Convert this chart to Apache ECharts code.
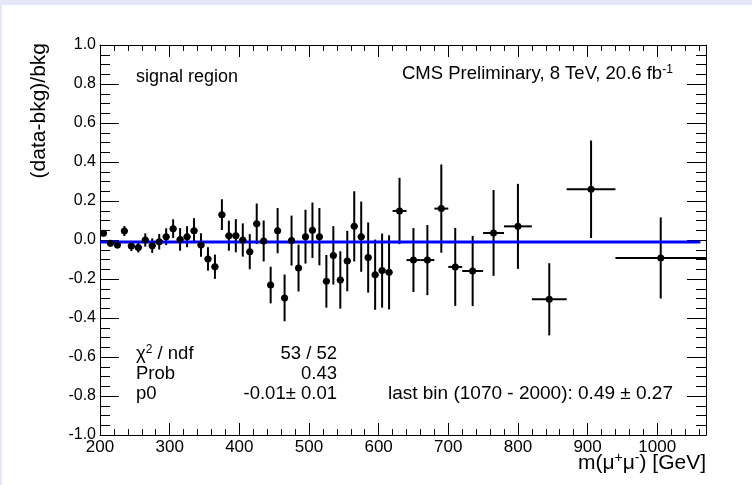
<!DOCTYPE html>
<html>
<head>
<meta charset="utf-8">
<script src="https://cdn.jsdelivr.net/npm/echarts@6/dist/echarts.min.js"></script>
<style>
html,body{margin:0;padding:0;background:#ffffff;}
#chart{width:752px;height:485px;}
</style>
</head>
<body>
<div id="chart"></div>
<script>
// ---- data ----
const binCenters = [205,215,225,235,245,255,265,275,285,295,305,315,325,335,345,355,365,375,385,395,405,415,425,435,
  445,455,465,475,485,495,505,515,525,535,545,555,565,575,585,595,605,615,
  630,650,670,690,710,735,765,800,845,905,1005];
const binHalfWidths = [5,5,5,5,5,5,5,5,5,5,5,5,5,5,5,5,5,5,5,5,5,5,5,5,
  5,5,5,5,5,5,5,5,5,5,5,5,5,5,5,5,5,5,
  10,10,10,10,10,15,15,20,25,35,65];
const values = [0.034,-0.017,-0.026,0.046,-0.031,-0.038,0.0,-0.029,-0.009,0.017,0.058,0.003,0.017,0.048,-0.026,-0.097,-0.137,0.13,0.022,0.022,0.0,-0.06,0.083,-0.005,
  -0.231,0.048,-0.297,-0.003,-0.144,0.017,0.05,0.017,-0.212,-0.079,-0.205,-0.108,0.07,0.017,-0.09,-0.178,-0.157,-0.166,
  0.149,-0.103,-0.103,0.161,-0.138,-0.159,0.036,0.07,-0.304,0.26,-0.092];
const errors = [0.015,0.017,0.017,0.026,0.026,0.026,0.034,0.037,0.04,0.043,0.048,0.058,0.054,0.064,0.06,0.06,0.062,0.079,0.077,0.085,0.085,0.09,0.104,0.105,
  0.094,0.116,0.12,0.128,0.12,0.138,0.142,0.147,0.135,0.15,0.147,0.155,0.18,0.18,0.18,0.18,0.19,0.19,
  0.17,0.164,0.18,0.226,0.2,0.18,0.22,0.218,0.185,0.25,0.208];
const fitValue = -0.01;
const fitRange = [200, 1062];
const xRange = [200, 1070];
const yRange = [-1, 1];
const xTickStep = 100;
const yTickStep = 0.2;
const statLabels = ['{n|\u03c7}{s|2}{n| / ndf}', '{n|Prob}', '{n|p0}'];
const statValues = ['53 / 52', '0.43', '-0.01\u00b1 0.01'];
const lastBinText = 'last bin (1070 - 2000): 0.49 \u00b1 0.27';

// ---- chart ----
const FONT = '"Liberation Sans", Arial, Helvetica, sans-serif';
const chart = echarts.init(document.getElementById('chart'), null, {renderer: 'canvas'});

const pointData = binCenters.map((x, i) => [x, values[i]]);
const errData = binCenters.map((x, i) => [x, values[i], binHalfWidths[i], errors[i]]);

function axisCommon(pos, majorLen, minorLen, minorSplit) {
  return {
    position: pos,
    axisLine: {show: true, onZero: false, lineStyle: {color: '#000', width: 1}},
    axisTick: {show: true, inside: true, length: majorLen, lineStyle: {color: '#000', width: 1}},
    minorTick: {show: true, splitNumber: minorSplit, length: minorLen, lineStyle: {color: '#000', width: 1}},
    splitLine: {show: false},
    minorSplitLine: {show: false},
    axisLabel: {show: false}
  };
}

const xBottom = Object.assign(axisCommon('bottom', 12, 6, 5), {
  type: 'value', min: xRange[0], max: xRange[1], interval: xTickStep,
  axisLabel: {show: true, color: '#000', fontSize: 17, fontFamily: FONT, margin: 4,
    showMaxLabel: false, formatter: v => String(v)}
});
const xTop = Object.assign(axisCommon('top', 12, 6, 5), {
  type: 'value', min: xRange[0], max: xRange[1], interval: xTickStep
});
const yLeft = Object.assign(axisCommon('left', 19, 10, 4), {
  type: 'value', min: yRange[0], max: yRange[1], interval: yTickStep,
  axisLabel: {show: true, color: '#000', fontSize: 16, fontFamily: FONT, margin: 4,
    formatter: v => (Math.abs(v) < 1e-9 ? '0.0' : v.toFixed(1))}
});
const yRight = Object.assign(axisCommon('right', 19, 10, 4), {
  type: 'value', min: yRange[0], max: yRange[1], interval: yTickStep
});

function richSet(size, lh, supSize) {
  return {
    n: {fontSize: size, fontFamily: FONT, color: '#000', lineHeight: lh},
    s: {fontSize: supSize, fontFamily: FONT, color: '#000', verticalAlign: 'top'}
  };
}

function txt(x, y, text, opts) {
  return {
    type: 'text', x: x, y: y, silent: true, z: 100,
    style: Object.assign({text: text, fontSize: 18, fontFamily: FONT, fill: '#000',
      align: 'left', verticalAlign: 'middle'}, opts || {})
  };
}

const graphics = [
  {type: 'rect', shape: {x: 0, y: 0, width: 752, height: 5}, style: {fill: '#e6e6fa'}, silent: true, z: 0},
  {type: 'rect', shape: {x: 0, y: 0, width: 2, height: 485}, style: {fill: '#e6e6fa'}, silent: true, z: 0},
  txt(136, 77, 'signal region', {fontSize: 18}),
  txt(402, 74, '{n|CMS Preliminary, 8 TeV, 20.6 fb}{s|-1}', {rich: richSet(18.5, 21, 12)}),
  txt(673, 394, lastBinText, {align: 'right', fontSize: 19}),
  txt(706, 463, '{n|m(\u03bc}{s|+}{n|\u03bc}{s|-}{n|) [GeV]}', {align: 'right', rich: richSet(21, 24, 14)}),
  {type: 'text', x: 39, y: 43, rotation: Math.PI / 2, silent: true, z: 100,
    style: {text: '(data-bkg)/bkg', fontSize: 21, fontFamily: FONT, fill: '#000', align: 'right', verticalAlign: 'middle'}}
];
statLabels.forEach((t, i) => {
  graphics.push(txt(136, 354 + i * 20, t, {rich: richSet(18.5, 21, 12)}));
  graphics.push(txt(337, 354 + i * 20, statValues[i], {align: 'right', fontSize: 18.5}));
});

chart.setOption({
  animation: false,
  backgroundColor: '#ffffff',
  grid: {left: 100, top: 45, right: 46, bottom: 50, containLabel: false, outerBoundsMode: 'none'},
  xAxis: [xBottom, xTop],
  yAxis: [yLeft, yRight],
  graphic: graphics,
  series: [
    {
      type: 'custom', name: 'errors', xAxisIndex: 0, yAxisIndex: 0, z: 2,
      data: errData, clip: true,
      renderItem: function (params, api) {
        const x = api.value(0), y = api.value(1), hw = api.value(2), e = api.value(3);
        const pL = api.coord([x - hw, y]), pR = api.coord([x + hw, y]);
        const pT = api.coord([x, y + e]), pB = api.coord([x, y - e]);
        return {type: 'group', children: [
          {type: 'line', shape: {x1: pL[0], y1: pL[1], x2: pR[0], y2: pR[1]}, style: {stroke: '#000', lineWidth: 2}},
          {type: 'line', shape: {x1: pT[0], y1: pT[1], x2: pB[0], y2: pB[1]}, style: {stroke: '#000', lineWidth: 2}}
        ]};
      }
    },
    {
      type: 'line', name: 'fit', z: 3, symbol: 'none',
      data: [[fitRange[0], fitValue], [fitRange[1], fitValue]],
      lineStyle: {color: '#0000ff', width: 3}
    },
    {
      type: 'scatter', name: 'data', z: 4, symbol: 'circle', symbolSize: 7,
      data: pointData, itemStyle: {color: '#000', opacity: 1}
    }
  ]
});
</script>
</body>
</html>
